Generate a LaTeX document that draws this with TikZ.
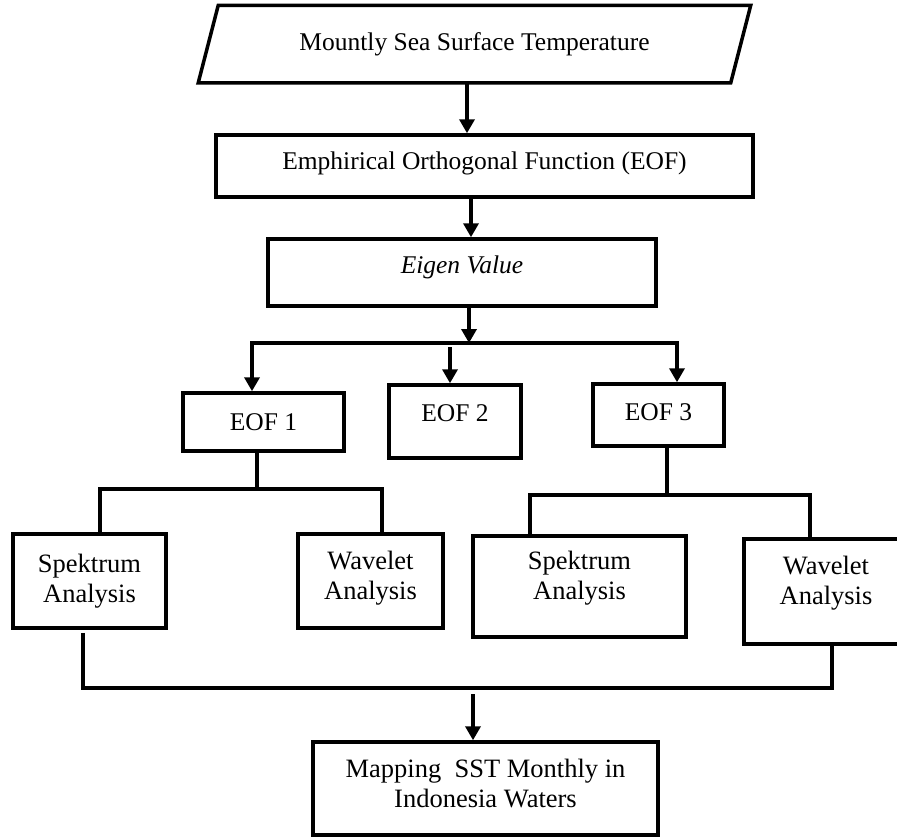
\documentclass[tikz,border=0pt]{standalone}
\usepackage{fontspec}
\setmainfont{Liberation Serif}
\usetikzlibrary{arrows.meta}
\begin{document}
\begin{tikzpicture}[x=1pt,y=-1pt,
  box/.style={draw, line width=3.5pt, rectangle, inner sep=0pt, align=center,
    font=\fontsize{25.5}{30}\selectfont},
  lowbox/.style={box, font=\fontsize{26.5}{30}\selectfont},
  ln/.style={line width=3.5pt, line join=miter, line cap=butt},
  arr/.style={ln, -{Triangle[width=15pt,length=14pt]}}]
\useasboundingbox (0,0) rectangle (897,836);
\clip (0,0) rectangle (897,836);

% nodes
\node[box, draw=none, minimum width=529pt, minimum height=74pt] (msst) at (474.5,44) {Mountly Sea Surface Temperature};
\draw[ln] ([xshift=10pt]msst.north west) -- ([xshift=10pt]msst.north east)
  -- ([xshift=-10pt]msst.south east) -- ([xshift=-10pt]msst.south west) -- cycle;

\node[box, minimum width=537pt, minimum height=62pt, text depth=11pt] (eof) at (484.5,166) {Emphirical Orthogonal Function (EOF)};
\node[box, minimum width=388pt, minimum height=67pt, text depth=16pt, font=\fontsize{25.5}{30}\selectfont\itshape] (eig) at (462,272.5) {Eigen Value};

\node[box, minimum width=161pt, minimum height=58pt] (eof1) at (263.5,422) {EOF 1};
\node[box, minimum width=132pt, minimum height=73pt, text depth=17pt] (eof2) at (455,421.5) {EOF 2};
\node[box, minimum width=131pt, minimum height=62pt, text depth=6pt] (eof3) at (658.5,415) {EOF 3};

\node[lowbox, minimum width=153pt, minimum height=94pt] (spk1) at (89.5,581) {Spektrum\\Analysis};
\node[lowbox, minimum width=145pt, minimum height=94pt, text depth=11pt] (wav1) at (370.5,581) {Wavelet\\Analysis};
\node[lowbox, minimum width=213pt, minimum height=101pt, text depth=22pt] (spk2) at (579.5,586.5) {Spektrum\\Analysis};
\node[lowbox, minimum width=164pt, minimum height=105pt, text depth=22pt] (wav2) at (826,591.5) {Wavelet\\Analysis};

\node[lowbox, minimum width=345pt, minimum height=93pt, text depth=11pt] (map) at (485.5,788.5) {Mapping\ \ SST Monthly in\\Indonesia Waters};

% top arrows
\draw[arr] ([xshift=-7.5pt]msst.south) -- ([xshift=-17.5pt]eof.north);
\draw[arr] ([xshift=-13.5pt]eof.south) -- ([xshift=9pt]eig.north);

% split below Eigen Value
\coordinate (j0) at (469,343);
\coordinate (jL) at (252,343);
\coordinate (jR) at (677,343);
\coordinate (jM) at (450,347);
\draw[arr] (eig.south -| j0) -- (j0);
\draw[arr] (j0) -- (jL) -- (jL |- eof1.north);
\draw[arr] (j0) -- (jR) -- (jR |- eof3.north);
\draw[arr] (jM) -- (jM |- eof2.north);

% EOF 1 branch
\coordinate (k1) at (257,489);
\coordinate (kL) at (100,489);
\coordinate (kR) at (382,489);
\draw[ln] (eof1.south -| k1) -- ([yshift=-2pt]k1);
\draw[ln] (spk1.north -| kL) -- (kL) -- (kR) -- (wav1.north -| kR);

% EOF 3 branch
\coordinate (m1) at (667,495);
\coordinate (mL) at (530,495);
\coordinate (mR) at (810,495);
\draw[ln] (eof3.south -| m1) -- (m1);
\draw[ln] (spk2.north -| mL) -- (mL) -- (mR) -- (wav2.north -| mR);

% merge to mapping
\coordinate (bL) at (83,688);
\coordinate (bR) at (832,688);
\coordinate (b0) at (473,694);
\draw[ln] ([yshift=-3pt]spk1.south -| bL) -- (bL) -- (bR) -- (wav2.south -| bR);
\draw[arr] (b0) -- (b0 |- map.north);
\end{tikzpicture}
\end{document}
